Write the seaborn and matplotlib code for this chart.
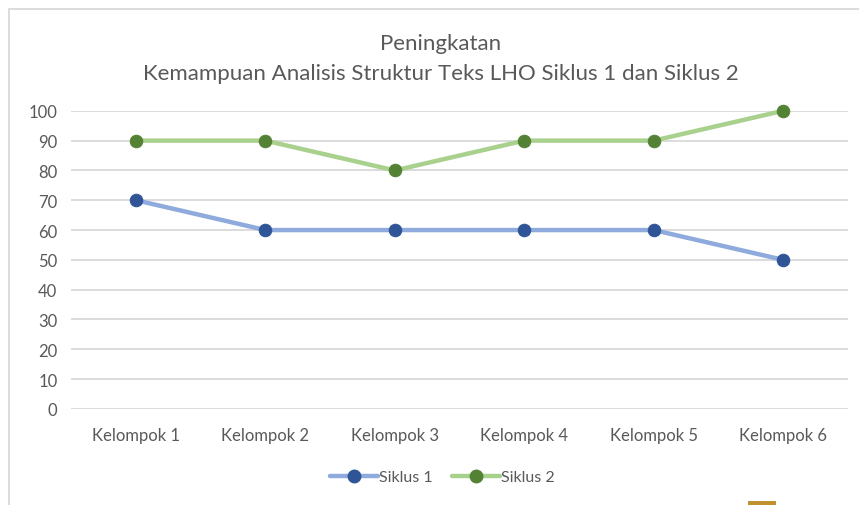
import matplotlib
matplotlib.use("Agg")
import matplotlib.pyplot as plt
from matplotlib.lines import Line2D
from matplotlib.patches import Rectangle
import pandas as pd
import seaborn as sns

# chart data
groups = ["Kelompok 1", "Kelompok 2", "Kelompok 3", "Kelompok 4", "Kelompok 5", "Kelompok 6"]
siklus_1 = [70, 60, 60, 60, 60, 50]
siklus_2 = [90, 90, 80, 90, 90, 100]
series_names = ["Siklus 1", "Siklus 2"]
y_ticks = [0, 10, 20, 30, 40, 50, 60, 70, 80, 90, 100]

line_colors = {"Siklus 1": "#8FAADC", "Siklus 2": "#A9D18E"}
marker_colors = {"Siklus 1": "#2F5597", "Siklus 2": "#548235"}
text_color = "#595959"

df = pd.concat([
    pd.DataFrame({"Kelompok": groups, "Nilai": siklus_1, "Siklus": series_names[0]}),
    pd.DataFrame({"Kelompok": groups, "Nilai": siklus_2, "Siklus": series_names[1]}),
])

sns.set_theme(style="white")
plt.rcParams["font.family"] = ["Lato", "DejaVu Sans"]

fig = plt.figure(figsize=(8.59, 5.06), dpi=100)
ax = fig.add_axes([0.083, 0.19, 0.904, 0.589])

sns.lineplot(data=df, x="Kelompok", y="Nilai", hue="Siklus", palette=line_colors,
             linewidth=3.2, marker="o", markersize=9, legend=False, ax=ax,
             sort=False, clip_on=False, zorder=3)

for line, name in zip(ax.lines, series_names):
    line.set_markerfacecolor(marker_colors[name])
    line.set_markeredgecolor(marker_colors[name])

ax.set_ylim(0, 100)
ax.set_xlim(-0.5, len(groups) - 0.5)
ax.set_yticks(y_ticks)
ax.yaxis.grid(True, color="#D9D9D9", linewidth=1.3)
ax.set_axisbelow(True)
for s in ax.spines.values():
    s.set_visible(False)
ax.tick_params(axis="both", length=0, labelsize=12, labelcolor=text_color)
ax.tick_params(axis="x", pad=13)
ax.tick_params(axis="y", pad=10)
ax.set_xlabel("")
ax.set_ylabel("")

fig.text(0.513, 0.913, "Peningkatan", ha="center", va="center", fontsize=16, color=text_color)
fig.text(0.513, 0.854, "Kemampuan Analisis Struktur Teks LHO Siklus 1 dan Siklus 2",
         ha="center", va="center", fontsize=16, color=text_color)

handles = [Line2D([0], [0], color=line_colors[n], linewidth=3.2, marker="o", markersize=9,
                  markerfacecolor=marker_colors[n], markeredgecolor=marker_colors[n])
           for n in series_names]
fig.legend(handles, series_names, loc="center", bbox_to_anchor=(0.515, 0.055), ncol=2,
           frameon=False, fontsize=11.5, labelcolor=text_color, handlelength=3.0,
           handletextpad=0.1, columnspacing=1.2)

# chart frame (cropped on right and bottom)
fig.add_artist(Rectangle((0.0099, -0.1), 1.2, 1.08, transform=fig.transFigure,
                         fill=False, edgecolor="#D9D9D9", linewidth=1.3))
fig.add_artist(Rectangle((0.871, -0.01), 0.032, 0.017, transform=fig.transFigure,
                         facecolor="#C0912F", edgecolor="none"))

fig.savefig("out.png", dpi=100, facecolor="white")
